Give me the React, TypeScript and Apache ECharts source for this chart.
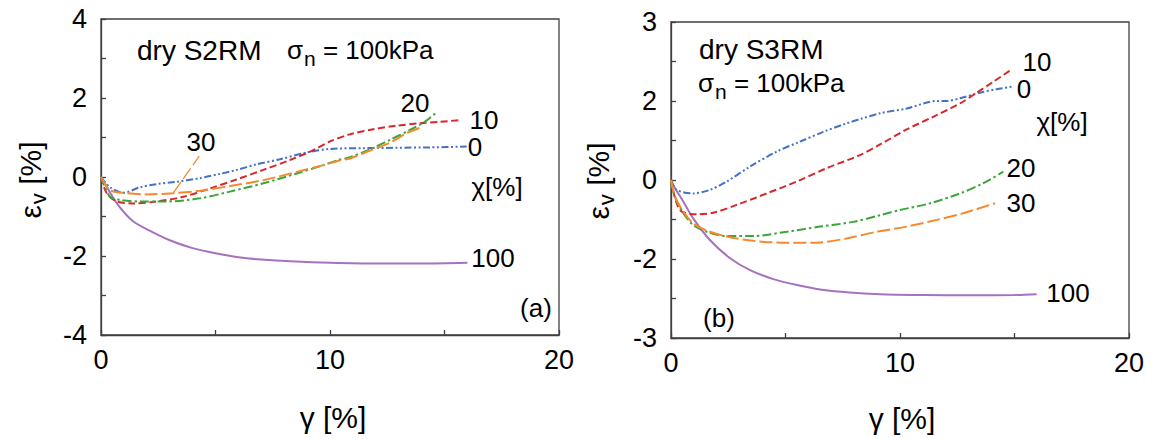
import React, { useEffect, useRef } from "react";
import * as echarts from "echarts";

// ---- Panel (a): dry S2RM, sigma_n = 100 kPa  (gamma [%], eps_v [%]) ----
const a_chi0: number[][] = [[0,0],[0.39,-0.26],[0.97,-0.40],[1.7,-0.26],[2.43,-0.18],[3.3,-0.12],[4.32,-0.03],[5.2,0.08],[5.93,0.18],[6.8,0.32],[7.82,0.45],[8.98,0.62],[10.0,0.71],[11.45,0.73],[12.91,0.74],[14.37,0.75],[15.97,0.77]];
const a_chi10: number[][] = [[0,0],[0.25,-0.41],[0.69,-0.62],[1.41,-0.67],[2.43,-0.62],[3.6,-0.5],[4.76,-0.29],[5.93,-0.06],[7.09,0.18],[8.25,0.43],[9.2,0.66],[10.0,0.9],[10.87,1.08],[11.89,1.21],[12.91,1.3],[13.93,1.36],[14.8,1.4],[15.75,1.44]];
const a_chi20: number[][] = [[0,0],[0.39,-0.5],[0.83,-0.58],[1.7,-0.62],[2.87,-0.62],[4.32,-0.54],[5.63,-0.37],[7.09,-0.16],[8.55,0.09],[9.71,0.3],[10.36,0.43],[10.87,0.5],[11.75,0.7],[12.62,0.94],[13.49,1.19],[14.15,1.4],[14.59,1.61]];
const a_chi30: number[][] = [[0,0],[0.39,-0.33],[0.97,-0.40],[2.0,-0.44],[3.16,-0.41],[4.32,-0.35],[5.63,-0.23],[7.09,-0.08],[8.55,0.13],[9.71,0.3],[10.36,0.41],[10.87,0.47],[11.75,0.67],[12.62,0.87],[13.35,1.11],[14.0,1.26]];
const a_chi100: number[][] = [[0,0],[0.3,-0.3],[0.8,-0.75],[1.4,-1.12],[2.1,-1.35],[3.0,-1.6],[4.0,-1.8],[5.0,-1.93],[6.0,-2.03],[7.0,-2.09],[8.5,-2.14],[10,-2.17],[12,-2.19],[14,-2.19],[16,-2.17]];
const a_leader30: number[][] = [[3.16,-0.40],[4.29,0.53]];

// ---- Panel (b): dry S3RM, sigma_n = 100 kPa ----
const b_chi0: number[][] = [[0,0],[0.25,-0.25],[0.97,-0.34],[1.7,-0.25],[2.43,-0.04],[3.45,0.34],[4.62,0.72],[5.63,0.97],[6.65,1.22],[7.6,1.42],[8.3,1.55],[9.13,1.69],[10.29,1.81],[11.6,2.0],[12.04,2.0],[12.62,2.07],[13.49,2.21],[14.22,2.3],[14.88,2.36]];
const b_chi10: number[][] = [[0,0],[0.39,-0.76],[1.12,-0.87],[1.85,-0.83],[2.87,-0.63],[4.18,-0.34],[5.49,-0.04],[6.8,0.3],[8.25,0.63],[9.13,0.9],[10.29,1.28],[11.45,1.6],[12.62,1.94],[13.35,2.21],[14.08,2.49],[14.88,2.8]];
const b_chi20: number[][] = [[0,0],[0.17,-0.42],[0.54,-0.84],[0.97,-1.14],[1.56,-1.31],[2.43,-1.42],[3.6,-1.42],[5.05,-1.31],[6.51,-1.18],[7.96,-1.06],[9.13,-0.89],[10.0,-0.76],[11.31,-0.59],[12.62,-0.34],[13.64,-0.08],[14.51,0.21]];
const b_chi30: number[][] = [[0,0],[0.17,-0.42],[0.54,-0.8],[0.97,-1.1],[1.56,-1.28],[2.43,-1.43],[3.6,-1.54],[5.05,-1.59],[6.51,-1.58],[7.67,-1.48],[8.98,-1.31],[10.29,-1.18],[11.6,-1.01],[12.76,-0.84],[14.15,-0.59]];
const b_chi100: number[][] = [[0,0],[0.1,-0.13],[0.54,-0.55],[0.97,-0.97],[1.7,-1.52],[2.58,-1.98],[3.45,-2.28],[4.47,-2.51],[5.5,-2.66],[6.6,-2.78],[7.8,-2.85],[9.13,-2.89],[11,-2.91],[13,-2.92],[15,-2.91],[15.97,-2.89]];

const xTicks = [0, 10, 20];
const yTicksA: Record<string, string> = { "4": "4", "2": "2", "0": "0", "-2": "-2", "-4": "-4" };
const yTicksB: Record<string, string> = { "4": "3", "2": "2", "0": "0", "-2": "-2", "-4": "-3" };

const FONT = "Liberation Sans, Arial, sans-serif";
const AXC = "#404040";
const C0 = "#4472C4";
const C10 = "#D9262B";
const C20 = "#3AA638";
const C30 = "#F5892F";
const C100 = "#A672BD";

export default function App() {
  const ref = useRef<HTMLDivElement>(null);
  useEffect(() => {
    document.body.style.margin = "0";
    const chart = echarts.init(ref.current!, null, { renderer: "svg" });
    const xAxis = (gi: number) => ({
      type: "value", gridIndex: gi, min: 0, max: 20, interval: 5,
      axisLine: { show: true, onZero: false, lineStyle: { color: AXC, width: 1.3 } },
      axisTick: { show: true, inside: true, length: 5, lineStyle: { color: AXC, width: 1.3 } },
      axisLabel: { margin: 11, fontSize: 27, color: "#000", fontFamily: FONT,
        formatter: (v: number) => (xTicks.includes(v) ? String(v) : "") },
      splitLine: { show: false },
    });
    const yAxis = (gi: number, map: Record<string, string>) => ({
      type: "value", gridIndex: gi, min: -4, max: 4, interval: 1,
      axisLine: { show: true, onZero: false, lineStyle: { color: AXC, width: 1.3 } },
      axisTick: { show: true, inside: true, length: 5, lineStyle: { color: AXC, width: 1.3 } },
      axisLabel: { margin: 14, fontSize: 27, color: "#000", fontFamily: FONT,
        formatter: (v: number) => map[String(v)] ?? "" },
      splitLine: { show: false },
    });
    const line = (data: number[][], color: string, dash: any, gi: number, width = 2) => ({
      type: "line", xAxisIndex: gi, yAxisIndex: gi, data, symbol: "none", smooth: 0.3,
      lineStyle: { color, width, type: dash }, z: 3,
    });
    const DASH0 = [7, 2.5, 2, 2.5, 2, 2.5];
    const DASH10 = [7, 3.5];
    const DASH20 = [9, 3, 2.5, 3];
    const DASH30 = [13, 4];
    const txt = (x: number, y: number, text: string, size = 26, align = "center", rich?: any, rotation = 0) => ({
      type: "text", x, y, rotation, z: 10,
      style: { text, fontSize: size, fontFamily: FONT, fill: "#000", align, verticalAlign: "middle", lineHeight: rich ? undefined : Math.round(size * 0.85), rich },
    });
    const richSub = (main: number, sub: number, pad: number) => ({
      m: { fontSize: main, fontFamily: FONT, fill: "#000" },
      s: { fontSize: sub, fontFamily: FONT, fill: "#000", padding: [pad, 0, 0, 1] },
    });
    chart.setOption({
      animation: false,
      grid: [
        { left: 101, top: 19, width: 458, height: 316, show: true, borderColor: AXC, borderWidth: 1.3, backgroundColor: "transparent" },
        { left: 671, top: 22, width: 458, height: 316, show: true, borderColor: AXC, borderWidth: 1.3, backgroundColor: "transparent" },
      ],
      xAxis: [xAxis(0), xAxis(1)],
      yAxis: [yAxis(0, yTicksA), yAxis(1, yTicksB)],
      series: [
        line(a_chi100, C100, "solid", 0),
        line(a_chi0, C0, DASH0, 0),
        line(a_chi10, C10, DASH10, 0),
        line(a_chi20, C20, DASH20, 0),
        line(a_chi30, C30, DASH30, 0),
        { ...line(a_leader30, C30, DASH30, 0, 1.3), smooth: false },
        line(b_chi100, C100, "solid", 1),
        line(b_chi0, C0, DASH0, 1),
        line(b_chi10, C10, DASH10, 1),
        line(b_chi20, C20, DASH20, 1),
        line(b_chi30, C30, DASH30, 1),
      ],
      graphic: [
        txt(137, 50, "dry S2RM", 28, "left"),
        txt(287, 50, "{m|σ}{s|n}{m| = 100kPa}", 26, "left", richSub(26, 21, 16)),
        txt(201, 142, "30"),
        txt(415, 103, "20"),
        txt(484, 120, "10"),
        txt(475, 147, "0"),
        txt(497, 187, "χ[%]"),
        txt(493, 258, "100"),
        txt(536, 308, "(a)"),
        txt(699, 49, "dry S3RM", 28, "left"),
        txt(698, 83, "{m|σ}{s|n}{m| = 100kPa}", 26, "left", richSub(26, 21, 16)),
        txt(1037, 62, "10"),
        txt(1024, 89, "0"),
        txt(1062, 122, "χ[%]"),
        txt(1021, 168, "20"),
        txt(1021, 203, "30"),
        txt(1068, 293, "100"),
        txt(719, 318, "(b)"),
        txt(333, 417, "γ [%]", 30),
        txt(902, 418, "γ [%]", 30),
        txt(30, 180, "{m|ε}{s|v}{m| [%]}", 30, "center", richSub(30, 22, 16), Math.PI / 2),
        txt(598, 181, "{m|ε}{s|v}{m| [%]}", 30, "center", richSub(30, 22, 16), Math.PI / 2),
      ],
    });
    return () => chart.dispose();
  }, []);
  return <div ref={ref} style={{ width: 1153, height: 439 }} />;
}
